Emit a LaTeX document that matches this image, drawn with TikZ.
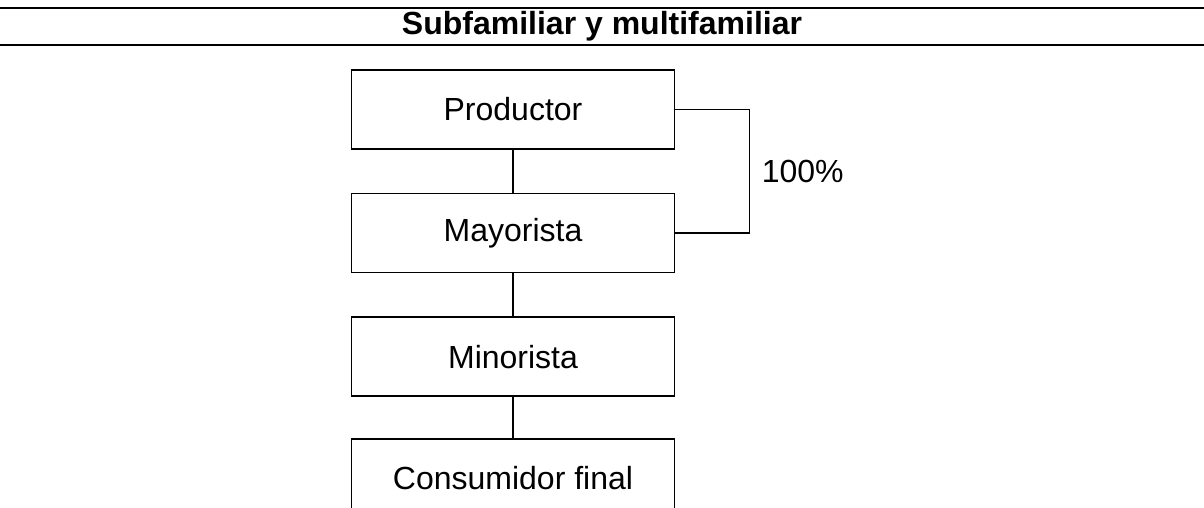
\documentclass[tikz,border=0pt]{standalone}
\usepackage{fontspec}
\setmainfont{Liberation Sans}
\usetikzlibrary{positioning,calc}
\begin{document}
\begin{tikzpicture}[x=1pt,y=-1pt]

    \tikzset{
      canal/.style={
        draw,
        line width=1.6pt,
        minimum width=323pt,
        minimum height=79pt,
        inner sep=0pt,
        font=\fontsize{32}{38}\selectfont,
      },
      enlace/.style={
        line width=1.6pt,
      },
      regla/.style={
        line width=2pt,
      },
    }
    \clip (0,0) rectangle (1204,508);
	\draw[regla] (0,8)--(1204,8);
	\node[font=\bfseries\fontsize{32}{38}\selectfont] (titulo) at (602,26) {Subfamiliar y multifamiliar};
	\draw[regla] (0,45)--(1204,45);
	\node[canal] (prod) at (513,109.5) {Productor};
	\node[canal,below=43pt of prod] (mayo) {Mayorista};
	\node[canal,below=43pt of mayo] (mino) {Minorista};
	\node[canal,below=41pt of mino] (cons) {Consumidor final};
	\draw[enlace] (prod)--(mayo);\draw[enlace] (mayo)--(mino);\draw[enlace] (mino)--(cons);
	\draw[enlace] (prod.east)--++(74,0) coordinate (esq) |- (mayo.east);
	\node[anchor=west,font=\fontsize{32}{38}\selectfont] (pct) at ($(esq)!0.5!(esq|-mayo.east)+(9,0)$) {100\%};

\end{tikzpicture}
\end{document}
